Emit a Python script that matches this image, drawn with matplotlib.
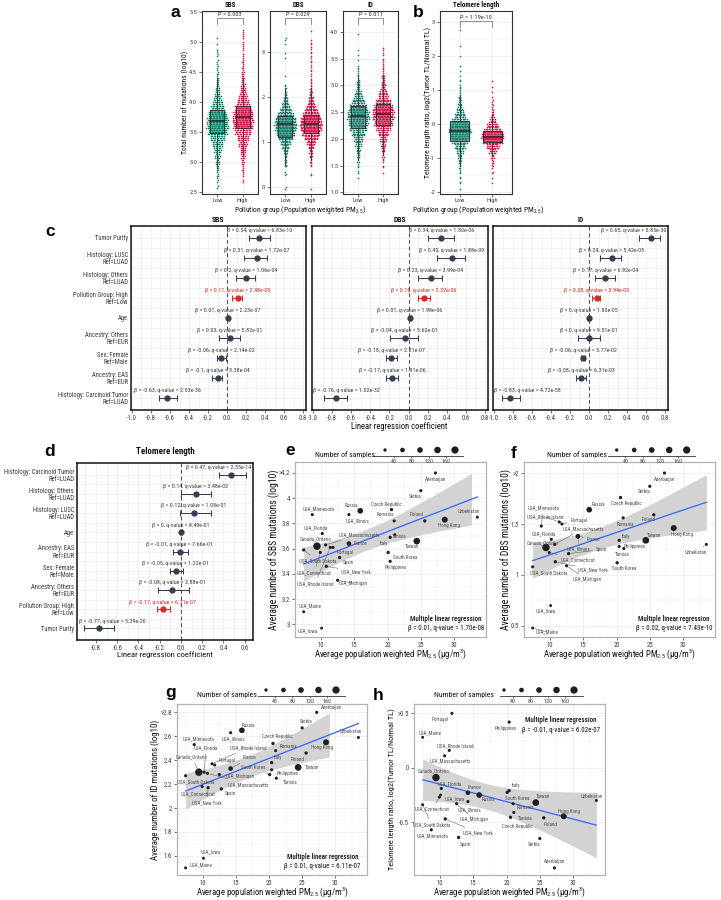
"""Multi-panel figure: mutational burden / telomere length vs PM2.5 pollution."""

import matplotlib

matplotlib.use("Agg")
import matplotlib.pyplot as plt
import numpy as np
from matplotlib import font_manager
from matplotlib.patches import Rectangle
from matplotlib.ticker import FixedLocator, MultipleLocator

_names = {f.name for f in font_manager.fontManager.ttflist}
BASE, SCALE = "Roboto", 0.9
for _cand in ("Roboto Condensed", "Liberation Sans Narrow", "Archivo Narrow", "Asap Condensed"):
    if _cand in _names:
        BASE, SCALE = _cand, 1.0
        break
LETTER_FONT = "Liberation Sans" if "Liberation Sans" in _names else "DejaVu Sans"

plt.rcParams["font.family"] = [BASE, "DejaVu Sans"]
plt.rcParams["mathtext.fontset"] = "custom"
plt.rcParams["mathtext.rm"] = BASE
plt.rcParams["mathtext.it"] = BASE + ":italic"
plt.rcParams["mathtext.bf"] = BASE + ":bold"
plt.rcParams["axes.unicode_minus"] = False


def fs(size):
    return size * SCALE


# ---------------------------------------------------------------------------
# Data
# ---------------------------------------------------------------------------
groups = ["Low", "High"]

# panel a/b: counts of tumours per bin (bin centre = start + i * step)
sbs_start, sbs_step = 2.6, 0.1
sbs_low = [2, 3, 4, 6, 8, 11, 15, 21, 30, 40, 46, 45, 38, 28, 20, 14, 9, 6, 5, 4, 3, 2, 3, 1, 1, 1, 0]
sbs_high = [0, 2, 3, 4, 6, 9, 12, 17, 24, 33, 41, 44, 42, 34, 25, 17, 12, 8, 6, 5, 4, 4, 2, 3, 2, 3, 2]
sbs_box_low = [3.48, 3.68, 3.87]
sbs_box_high = [3.57, 3.75, 3.93]

dbs_start, dbs_step = 0.0, 0.1
dbs_low = [2, 0, 0, 3, 0, 4, 5, 6, 9, 13, 20, 30, 38, 44, 46, 42, 34, 24, 16, 10,
           7, 4, 3, 1, 0, 1, 0, 0, 0, 1, 1, 0, 1, 2, 0, 0]
dbs_high = [1, 0, 0, 2, 0, 3, 4, 5, 7, 11, 17, 27, 37, 44, 46, 43, 35, 26, 17, 11,
            8, 5, 4, 3, 2, 2, 2, 2, 2, 2, 2, 2, 2, 1, 0, 1]
dbs_box_low = [1.11, 1.39, 1.58]
dbs_box_high = [1.20, 1.41, 1.60]

id_start, id_step = 1.3, 0.1
id_low = [1, 2, 3, 4, 6, 9, 13, 18, 26, 35, 42, 46, 44, 36, 26, 17, 11, 7, 5, 3, 3, 1, 1, 1, 1, 0, 0, 1]
id_high = [0, 1, 2, 3, 4, 7, 10, 14, 21, 30, 38, 44, 45, 40, 31, 21, 14, 9, 6, 4, 3, 3, 2, 2, 2, 0, 0, 0]
id_box_low = [2.20, 2.42, 2.61]
id_box_high = [2.26, 2.46, 2.66]

tl_start, tl_step = -2.0, 0.15
tl_low = [1, 1, 2, 2, 3, 4, 6, 9, 14, 22, 32, 42, 46, 42, 33, 22, 14, 9, 6, 4, 3, 2, 2,
          1, 1, 1, 0, 1, 0, 1, 0, 0, 1]
tl_high = [0, 0, 1, 1, 2, 3, 4, 7, 14, 26, 40, 46, 38, 24, 13, 7, 4, 3, 2, 1, 1, 1, 1,
           0, 0, 0, 0, 0, 0, 0, 0, 0, 0]
tl_box_low = [-0.50, -0.20, 0.09]
tl_box_high = [-0.53, -0.37, -0.21]

p_values = ["P = 0.003", "P = 0.029", "P = 0.011", "P = 1.19e-10"]

# panel c: multivariable regression of mutation burden
c_terms = [
    "Tumor Purity",
    "Histology: LUSC\nRef=LUAD",
    "Histology: Others\nRef=LUAD",
    "Pollution Group: High\nRef=Low",
    "Age",
    "Ancestry: Others\nRef=EUR",
    "Sex: Female\nRef=Male",
    "Ancestry: EAS\nRef=EUR",
    "Histology: Carcinoid Tumor\nRef=LUAD",
]
sbs_beta = [0.34, 0.31, 0.2, 0.11, 0.01, 0.03, -0.06, -0.1, -0.63]
sbs_lo = [0.23, 0.18, 0.09, 0.05, 0.0, -0.09, -0.11, -0.16, -0.72]
sbs_hi = [0.45, 0.42, 0.29, 0.16, 0.02, 0.14, -0.01, -0.05, -0.53]
sbs_q = [6.83e-10, 1.72e-07, 1.06e-04, 2.48e-05, 2.23e-07, 5.82e-01, 2.14e-02, 3.38e-04, 2.03e-36]

dbs_beta = [0.34, 0.45, 0.23, 0.16, 0.01, -0.04, -0.18, -0.17, -0.76]
dbs_lo = [0.20, 0.30, 0.10, 0.10, 0.0, -0.19, -0.24, -0.24, -0.88]
dbs_hi = [0.47, 0.59, 0.35, 0.22, 0.02, 0.10, -0.12, -0.11, -0.64]
dbs_q = [1.80e-06, 1.88e-09, 3.99e-04, 2.37e-06, 1.98e-06, 5.60e-01, 2.21e-07, 1.91e-06, 1.02e-32]

id_beta = [0.65, 0.24, 0.17, 0.08, 0, 0, -0.06, -0.08, -0.83]
id_lo = [0.53, 0.11, 0.06, 0.03, -0.01, -0.12, -0.09, -0.14, -0.92]
id_hi = [0.75, 0.34, 0.27, 0.12, 0.01, 0.11, -0.04, -0.03, -0.73]
id_q = [5.85e-30, 5.42e-05, 6.92e-04, 3.94e-03, 1.80e-05, 9.51e-01, 3.77e-02, 6.31e-03, 4.72e-58]

# panel d: regression of telomere length
d_terms = [
    "Histology: Carcinoid Tumor\nRef=LUAD",
    "Histology: Others\nRef=LUAD",
    "Histology: LUSC\nRef=LUAD",
    "Age",
    "Ancestry: EAS\nRef=EUR",
    "Sex: Female\nRef=Male",
    "Ancestry: Others\nRef=EUR",
    "Pollution Group: High\nRef=Low",
    "Tumor Purity",
]
tl_beta = [0.47, 0.14, 0.12, 0, -0.01, -0.05, -0.08, -0.17, -0.77]
tl_lo = [0.36, 0.0, -0.01, -0.01, -0.07, -0.10, -0.22, -0.23, -0.91]
tl_hi = [0.61, 0.28, 0.28, 0.01, 0.07, 0.02, 0.08, -0.10, -0.63]
tl_q = [2.55e-14, 3.48e-02, 1.03e-01, 8.49e-01, 7.66e-01, 1.22e-01, 2.88e-01, 6.71e-07, 5.39e-26]

# panels e-h: per-region averages
regions = [
    "Azerbaijan", "Serbia", "Czech Republic", "Romania", "Poland", "Uzbekistan",
    "Hong Kong", "Russia", "USA_Illinois", "USA_Minnesota", "USA_Florida", "Tunisia",
    "Italy", "Taiwan", "France", "USA_Massachusetts", "Canada_Ontario", "Portugal",
    "USA_Rhode Island", "USA_South Dakota", "USA_Connecticut", "USA_New York", "Spain",
    "South Korea", "Philippines", "USA_Michigan", "USA_Maine", "USA_Iowa",
]
pm25 = [27.2, 25.0, 20.6, 21.0, 25.6, 33.5, 28.6, 15.9, 14.2, 8.7, 10.2, 21.1,
        20.4, 24.4, 14.2, 10.7, 9.4, 11.8, 11.4, 7.4, 9.9, 10.8, 12.8,
        20.1, 20.4, 12.5, 7.4, 10.1]
n_samples = [15, 15, 20, 15, 20, 12, 115, 100, 15, 15, 15, 15,
             20, 150, 60, 15, 190, 15, 15, 15, 15, 20, 20,
             20, 15, 15, 10, 10]
avg_sbs = [4.2, 4.06, 3.91, 3.82, 3.82, 3.85, 3.83, 3.90, 3.87, 3.87, 3.72, 3.71,
           3.69, 3.66, 3.64, 3.63, 3.62, 3.61, 3.61, 3.59, 3.57, 3.46, 3.53,
           3.57, 3.50, 3.35, 3.10, 2.97]
avg_dbs = [2.0, 1.87, 1.76, 1.56, 1.59, 1.30, 1.46, 1.64, 1.37, 1.48, 1.35, 1.26,
           1.34, 1.34, 1.38, 1.30, 1.27, 1.50, 1.52, 1.08, 1.22, 1.13, 1.21,
           1.12, 1.28, 1.09, 0.48, 0.70]
avg_id = [2.8, 2.67, 2.54, 2.48, 2.46, 2.59, 2.55, 2.65, 2.63, 2.53, 2.30, 2.25,
          2.38, 2.34, 2.33, 2.29, 2.30, 2.36, 2.37, 2.27, 2.18, 2.17, 2.16,
          2.28, 2.32, 2.28, 1.50, 1.58]
avg_tl = [-0.92, -0.65, -0.455, -0.33, -0.46, -0.30, -0.445, -0.25, -0.31, -0.57, -0.19, -0.41,
          -0.21, -0.32, -0.23, 0.11, -0.09, 0.5, 0.16, -0.34, -0.27, -0.47, -0.64,
          -0.226, 0.42, -0.33, 0.28, -0.25]
size_keys = [20, 60, 100, 140, 180]
size_breaks = [40, 80, 120, 160]
reg_stats = {"e": (0.01, 1.70e-08), "f": (0.02, 7.43e-10), "g": (0.01, 6.11e-07), "h": (-0.01, 6.02e-07)}

# label offsets (pixels, right / down) for the country labels
off_e = {"Azerbaijan": (0, 7), "Serbia": (-6, 6), "Czech Republic": (-5, -5), "Romania": (-9, -6),
         "Poland": (-8, -6), "Uzbekistan": (-9, -6), "Hong Kong": (4, 6), "Russia": (-9, -5),
         "USA_Illinois": (9, 6), "USA_Minnesota": (6, -6), "USA_Florida": (-7, -6), "Tunisia": (4, 2),
         "Italy": (-6, 6), "Taiwan": (-5, 5), "France": (12, 0), "USA_Massachusetts": (34, -10),
         "Canada_Ontario": (-1, -7), "Portugal": (12, 5), "USA_Rhode Island": (-15, 36),
         "USA_South Dakota": (14, 11), "USA_Connecticut": (-6, 20), "USA_New York": (30, 5),
         "Spain": (9, 5), "South Korea": (17, 5), "Philippines": (6, 6), "USA_Michigan": (16, 3),
         "USA_Maine": (6, -6), "USA_Iowa": (-14, 3)}
off_f = {"Azerbaijan": (0, 6), "Serbia": (-6, 5), "Czech Republic": (6, 6), "Russia": (9, -5),
         "Poland": (-5, 5), "Romania": (2, 7), "USA_Minnesota": (2, -18), "USA_Rhode Island": (-14, -5),
         "Portugal": (17, -4), "Hong Kong": (8, 6), "USA_Florida": (-8, -6), "USA_Massachusetts": (29, -16),
         "France": (16, 3), "Italy": (7, -4), "Taiwan": (8, -5), "Uzbekistan": (-11, 8),
         "Canada_Ontario": (-3, -5), "Philippines": (16, 0), "Tunisia": (-2, 6), "USA_Illinois": (1, 12),
         "Spain": (33, -4), "USA_Connecticut": (29, 7), "USA_New York": (38, 8), "USA_Michigan": (21, 14),
         "South Korea": (7, 6), "USA_South Dakota": (16, 6), "USA_Iowa": (-5, 5), "USA_Maine": (14, 4)}
off_g = {"Azerbaijan": (15, -5), "Serbia": (4, -6), "Russia": (6, -5), "USA_Illinois": (3, 6),
         "Uzbekistan": (-8, -6), "Hong Kong": (-4, 5), "Czech Republic": (4, -7), "USA_Minnesota": (4, -6),
         "Romania": (13, -4), "Poland": (-9, 6), "Italy": (6, -5), "USA_Rhode Island": (36, -16),
         "USA_Florida": (2, -24), "Portugal": (12, -4), "France": (19, -11), "Taiwan": (14, 0),
         "Philippines": (16, 4), "South Korea": (-16, -7), "Tunisia": (14, 4), "Canada_Ontario": (-7, -15),
         "USA_Massachusetts": (41, 11), "USA_Michigan": (21, 2), "USA_South Dakota": (10, 6),
         "USA_Connecticut": (-4, 7), "USA_New York": (-1, 15), "Spain": (9, 5), "USA_Iowa": (7, -6),
         "USA_Maine": (15, -3)}
off_h = {"Portugal": (-12, 6), "Philippines": (-3, 6), "USA_Maine": (7, -5), "USA_Rhode Island": (6, -5),
         "USA_Massachusetts": (6, 5), "Canada_Ontario": (-2, -7), "USA_Florida": (8, -5), "Italy": (7, -5),
         "South Korea": (10, 6), "France": (7, -5), "Russia": (9, 5), "USA_Illinois": (2, 8),
         "USA_Iowa": (14, 4), "USA_Connecticut": (-7, 12), "USA_Michigan": (18, 16), "Taiwan": (7, -6),
         "Uzbekistan": (-5, -4), "Romania": (12, 4), "USA_South Dakota": (9, 20), "Tunisia": (11, 6),
         "Czech Republic": (7, 9), "Hong Kong": (5, -5), "Poland": (7, 7), "USA_New York": (33, 14),
         "USA_Minnesota": (1, 6), "Spain": (7, 7), "Serbia": (-6, 6), "Azerbaijan": (0, -6)}

# ---------------------------------------------------------------------------
# Styling helpers
# ---------------------------------------------------------------------------
W, H = 721, 900
LOW_C = "#17806d"
HIGH_C = "#d1194c"
DOT_C = "#353e4f"
RED_C = "#d42a2a"
GRID_C = "#ebebeb"
TXT_C = "#3d3d3d"
LAB_C = "#111111"

fig = plt.figure(figsize=(W / 100, H / 100), dpi=100)


def px_rect(left, top, right, bottom):
    return [left / W, 1 - bottom / H, (right - left) / W, (bottom - top) / H]


def ftext(x, y, s, size, **kw):
    kw.setdefault("ha", "center")
    kw.setdefault("va", "center")
    kw.setdefault("color", LAB_C)
    return fig.text(x / W, 1 - y / H, s, fontsize=fs(size), **kw)


def style_frame(ax, color, lw, tick_size=4.6):
    for sp in ax.spines.values():
        sp.set_color(color)
        sp.set_linewidth(lw)
    ax.tick_params(labelsize=fs(tick_size), colors=TXT_C, length=2, width=0.5, pad=1.5)
    ax.tick_params(which="minor", length=0)
    ax.set_axisbelow(True)


def box_swarm(ax, start, step, counts_pair, boxes, ppu, yticks, ylim, title, ptext, bracket_px):
    dx = 1.45 / ppu
    for xc, counts, box, col in zip((1, 2), counts_pair, boxes, (LOW_C, HIGH_C)):
        xs, ys = [], []
        for i, c in enumerate(counts):
            for j, part in enumerate(np.array_split(np.arange(c), 3)):
                m = len(part)
                if m == 0:
                    continue
                yv = start + i * step - step / 2 + (j + 0.5) * step / 3
                off = (np.arange(m) - (m - 1) / 2 + 0.25 * (j % 2)) * dx
                xs.extend(xc + off)
                ys.extend([yv] * m)
        ax.scatter(xs, ys, s=1.4, color=col, lw=0, zorder=2)
        q1, med, q3 = box
        iqr = q3 - q1
        centres = start + step * np.arange(len(counts))
        present = centres[np.array(counts) > 0]
        wlo = present[present >= q1 - 1.5 * iqr].min()
        whi = present[present <= q3 + 1.5 * iqr].max()
        ax.plot([xc, xc], [wlo, q1], color="#333333", lw=0.6, zorder=2.5)
        ax.plot([xc, xc], [q3, whi], color="#333333", lw=0.6, zorder=2.5)
        bw = 0.56
        ax.add_patch(Rectangle((xc - bw / 2, q1), bw, q3 - q1, facecolor=col, alpha=0.6,
                               edgecolor="none", zorder=3))
        ax.add_patch(Rectangle((xc - bw / 2, q1), bw, q3 - q1, facecolor="none",
                               edgecolor="#333333", lw=0.7, zorder=3.5))
        ax.plot([xc - bw / 2, xc + bw / 2], [med, med], color="#262626", lw=1.1, zorder=4)
    ax.set_xlim(0.4, 2.6)
    ax.set_ylim(ylim)
    ax.set_xticks([1, 2], groups)
    ax.set_yticks(yticks)
    ax.yaxis.set_minor_locator(FixedLocator(np.array(yticks[:-1]) + np.diff(yticks) / 2))
    ax.grid(True, which="major", color=GRID_C, lw=0.5)
    ax.grid(True, which="minor", axis="y", color=GRID_C, lw=0.3)
    style_frame(ax, "#333333", 0.8, 4.6)
    ax.tick_params(axis="x", pad=1.0)
    # significance bracket
    hpx = ax.get_position().height * H
    yb = 1 - bracket_px / hpx
    yt = yb - 5.5 / hpx
    tr = ax.get_xaxis_transform()
    ax.plot([1, 1, 2, 2], [yt, yb, yb, yt], color="#666666", lw=0.5, transform=tr, clip_on=False)
    ax.text(1.5, yb + 1.2 / hpx, ptext, transform=tr, ha="center", va="bottom", fontsize=fs(4.6),
            color="#333333")
    bb = ax.get_position()
    ftext((bb.x0 + bb.width / 2) * W, 5.2, title, 5.0, fontweight="bold")


def forest(ax, terms, beta, lo, hi, q, highlight, xlim, xticks, show_terms, items):
    n = len(terms)
    rows = np.arange(n, 0, -1)
    for i in range(n):
        col = RED_C if i == highlight else DOT_C
        ax.errorbar(beta[i], rows[i], xerr=[[beta[i] - lo[i]], [hi[i] - beta[i]]], fmt="o",
                    ms=3.5, color=col, ecolor=col, elinewidth=0.75, capsize=2.5, capthick=0.75,
                    zorder=3)
        t = ax.text(beta[i], rows[i] + 0.37, f"β = {beta[i]:g}, q-value = {q[i]:.2e}",
                    fontsize=fs(4.3), color=RED_C if i == highlight else TXT_C,
                    ha="center", va="center", zorder=4)
        items.append((ax, t))
    ax.axvline(0, color="#555555", ls=(0, (3.5, 2.5)), lw=0.8, zorder=2)
    ax.set_xlim(xlim)
    ax.set_ylim(0.4, n + 0.6)
    ax.set_xticks(xticks, [f"{v:.1f}" for v in xticks])
    ax.xaxis.set_minor_locator(MultipleLocator(0.1))
    ax.set_yticks(rows, terms if show_terms else [""] * n)
    ax.yaxis.set_minor_locator(FixedLocator(rows[:-1] - 0.5))
    ax.grid(True, which="both", color=GRID_C, lw=0.45)
    style_frame(ax, "#111111", 1.1, 4.8)
    ax.tick_params(axis="y", length=0, labelsize=fs(4.75), pad=2.0)
    if not show_terms:
        ax.tick_params(axis="y", labelleft=False)
    for lab in ax.get_yticklabels():
        lab.set_linespacing(1.05)


def ols_band(x, y):
    x = np.asarray(x, float)
    y = np.asarray(y, float)
    n = len(x)
    xm = x.mean()
    sxx = ((x - xm) ** 2).sum()
    b1 = ((x - xm) * (y - y.mean())).sum() / sxx
    b0 = y.mean() - b1 * xm
    s2 = ((y - b0 - b1 * x) ** 2).sum() / (n - 2)
    xs = np.linspace(x.min(), x.max(), 120)
    fit = b0 + b1 * xs
    se = np.sqrt(s2 * (1 / n + (xs - xm) ** 2 / sxx))
    return xs, fit, fit - 2.056 * se, fit + 2.056 * se


def scatter_panel(ax, yvals, offsets, ylim, yticks, yticklabels, stat_key, stat_xy):
    xs, fit, lo, hi = ols_band(pm25, yvals)
    inside = (hi <= yticks[-1] + 1e-9) & (lo >= ylim[0])
    ax.fill_between(xs, lo, hi, where=inside, color="#d3d3d3", lw=0, zorder=1)
    ax.plot(xs, fit, color="#3366ff", lw=0.9, zorder=2)
    sizes = 3.1 + 0.135 * np.asarray(n_samples)
    ax.scatter(pm25, yvals, s=sizes, color="#1e1e1e", lw=0, zorder=3)
    for name, xv, yv in zip(regions, pm25, yvals):
        ox, oy = offsets[name]
        lead = np.hypot(ox, oy) > 12
        ax.annotate(name, (xv, yv), xytext=(ox * 0.72, -oy * 0.72), textcoords="offset points",
                    ha="center", va="center", fontsize=fs(3.7), color="#4f4f4f", zorder=4,
                    annotation_clip=False,
                    arrowprops=dict(arrowstyle="-", lw=0.35, color="#555555", shrinkA=0.5,
                                    shrinkB=1.5) if lead else None)
    ax.set_xlim(6.1, 34.8)
    ax.set_ylim(ylim)
    ax.set_xticks([10, 15, 20, 25, 30])
    ax.set_yticks(yticks, yticklabels)
    ax.xaxis.set_minor_locator(MultipleLocator(2.5))
    ax.yaxis.set_minor_locator(FixedLocator(np.array(yticks[:-1]) + np.diff(yticks) / 2))
    ax.grid(True, which="major", color=GRID_C, lw=0.5)
    ax.grid(True, which="minor", color=GRID_C, lw=0.3)
    style_frame(ax, "#b3b3b3", 0.9, 4.8)
    b, qv = reg_stats[stat_key]
    ax.text(stat_xy[0], stat_xy[1] + 0.03, "Multiple linear regression", transform=ax.transAxes,
            ha="center", va="center", fontsize=fs(5.0), color="#111111", fontweight="medium",
            zorder=5)
    ax.text(stat_xy[0], stat_xy[1] - 0.028, f"β = {b:g}, q-value = {qv:.2e}", transform=ax.transAxes,
            ha="center", va="center", fontsize=fs(5.0), color="#111111", zorder=5)


def size_legend(left, right, x20, x180, y_dots, y_line, text_xy):
    lax = fig.add_axes(px_rect(left, y_line - 10, right, y_line))
    ppu = (x180 - x20) / 160
    lax.set_xlim(20 - (x20 - left) / ppu, 180 + (right - x180) / ppu)
    lax.set_ylim(0, 1)
    yd = (y_line - y_dots) / 10
    lax.scatter(size_keys, [yd] * len(size_keys), s=3.1 + 0.135 * np.asarray(size_keys),
                color="#1e1e1e", lw=0, clip_on=False)
    for side in ("top", "left", "right"):
        lax.spines[side].set_visible(False)
    lax.spines["bottom"].set_color("#333333")
    lax.spines["bottom"].set_linewidth(0.6)
    lax.set_yticks([])
    lax.set_xticks(size_breaks)
    lax.tick_params(axis="x", labelsize=fs(4.3), length=1.5, width=0.5, pad=0.8, colors=TXT_C)
    lax.patch.set_alpha(0)
    ftext(text_xy[0], text_xy[1], "Number of samples", 5.6)


# ---------------------------------------------------------------------------
# Panel a / b
# ---------------------------------------------------------------------------
ax_sbs = fig.add_axes(px_rect(202, 11, 258, 194))
box_swarm(ax_sbs, sbs_start, sbs_step, (sbs_low, sbs_high), (sbs_box_low, sbs_box_high), 25.5,
          [2.5, 3.0, 3.5, 4.0, 4.5, 5.0, 5.5], (2.47, 5.52), "SBS", p_values[0], 7.3)
ax_sbs.set_yticks([2.5, 3.0, 3.5, 4.0, 4.5, 5.0, 5.5], ["2.5", "3.0", "3.5", "4.0", "4.5", "5.0", "5.5"])

ax_dbs = fig.add_axes(px_rect(270, 11, 326, 194))
box_swarm(ax_dbs, dbs_start, dbs_step, (dbs_low, dbs_high), (dbs_box_low, dbs_box_high), 25.5,
          [0, 1, 2, 3], (-0.15, 3.9), "DBS", p_values[1], 7.3)

ax_id = fig.add_axes(px_rect(343, 11, 398, 194))
box_swarm(ax_id, id_start, id_step, (id_low, id_high), (id_box_low, id_box_high), 25.0,
          [1.0, 1.5, 2.0, 2.5, 3.0, 3.5, 4.0], (0.97, 4.39), "ID", p_values[2], 7.3)
ax_id.set_yticks([1.0, 1.5, 2.0, 2.5, 3.0, 3.5, 4.0], ["1.0", "1.5", "2.0", "2.5", "3.0", "3.5", "4.0"])

ax_tl = fig.add_axes(px_rect(440, 11, 512, 194))
box_swarm(ax_tl, tl_start, tl_step, (tl_low, tl_high), (tl_box_low, tl_box_high), 32.7,
          [-2, -1, 0, 1, 2, 3], (-2.06, 3.32), "Telomere length", p_values[3], 10.5)

ftext(185, 102, "Total number of mutations (log10)", 5.5, rotation=90)
ftext(428, 102, "Telomere length ratio, log2(Tumor TL/Normal TL)", 5.6, rotation=90)
ftext(300, 210.5, "Pollution group (Population weighted PM$_{2.5}$)", 5.4)
ftext(478, 210.5, "Pollution group (Population weighted PM$_{2.5}$)", 5.4)

# ---------------------------------------------------------------------------
# Panel c / d
# ---------------------------------------------------------------------------
clamp = []
c_ticks = [-1.0, -0.8, -0.6, -0.4, -0.2, 0.0, 0.2, 0.4, 0.6, 0.8]
ax_c1 = fig.add_axes(px_rect(131, 226, 306, 410))
forest(ax_c1, c_terms, sbs_beta, sbs_lo, sbs_hi, sbs_q, 3, (-1.01, 0.83), c_ticks, True, clamp)
ax_c2 = fig.add_axes(px_rect(312, 226, 488, 410))
forest(ax_c2, c_terms, dbs_beta, dbs_lo, dbs_hi, dbs_q, 3, (-1.01, 0.83), c_ticks, False, clamp)
ax_c3 = fig.add_axes(px_rect(493, 226, 668, 410))
forest(ax_c3, c_terms, id_beta, id_lo, id_hi, id_q, 3, (-1.01, 0.83), c_ticks, False, clamp)
for ax, title in ((ax_c1, "SBS"), (ax_c2, "DBS"), (ax_c3, "ID")):
    bb = ax.get_position()
    ftext((bb.x0 + bb.width / 2) * W, 219.5, title, 5.5, fontweight="bold")
ftext(399, 426, "Linear regression coefficient", 6.2)

d_ticks = [-0.8, -0.6, -0.4, -0.2, 0.0, 0.2, 0.4, 0.6]
ax_d = fig.add_axes(px_rect(77, 463, 253, 640))
forest(ax_d, d_terms, tl_beta, tl_lo, tl_hi, tl_q, 7, (-0.98, 0.68), d_ticks, True, clamp)
ftext(165, 452, "Telomere length", 6.4, fontweight="bold")
ftext(165, 654.5, "Linear regression coefficient", 6.1)

# ---------------------------------------------------------------------------
# Panels e-h
# ---------------------------------------------------------------------------
xlab = "Average population weighted PM$_{2.5}$ (µg/m$^{3}$)"
ax_e = fig.add_axes(px_rect(295, 462, 486, 637))
scatter_panel(ax_e, avg_sbs, off_e, (2.9, 4.287), [3, 3.2, 3.4, 3.6, 3.8, 4, 4.2],
              ["3", "3.2", "3.4", "3.6", "3.8", "4", ">4.2"], "e", (0.79, 0.075))
ftext(274, 549.5, "Average number of SBS mutations (log10)", 6.9, rotation=90)
ftext(390.5, 654, xlab, 6.3)
size_legend(373, 463, 385, 455, 450, 456, (345, 454.5))

ax_f = fig.add_axes(px_rect(524, 462, 715, 637))
scatter_panel(ax_f, avg_dbs, off_f, (0.392, 2.108), [0.5, 1, 1.5, 2],
              ["0.5", "1", "1.5", ">2"], "f", (0.785, 0.075))
ftext(506.5, 549.5, "Average number of DBS mutations (log10)", 6.9, rotation=90)
ftext(619.5, 654, xlab, 6.3)
size_legend(608, 695, 616.7, 686.7, 450, 456, (576.7, 454.7))

ax_g = fig.add_axes(px_rect(177, 704, 367, 875))
scatter_panel(ax_g, avg_id, off_g, (1.44, 2.87), [1.6, 1.8, 2, 2.2, 2.4, 2.6, 2.8],
              ["1.6", "1.8", "2", "2.2", "2.4", "2.6", ">2.8"], "g", (0.765, 0.075))
ftext(155, 789.5, "Average number of ID mutations (log10)", 6.4, rotation=90)
ftext(272, 892.5, xlab, 6.3)
size_legend(258, 345, 266, 336, 690, 695.7, (226.7, 694.3))

ax_h = fig.add_axes(px_rect(414, 704, 605, 875))
scatter_panel(ax_h, avg_tl, off_h, (-0.985, 0.586), [-0.5, 0, 0.5],
              ["-0.5", "0", ">0.5"], "h", (0.77, 0.875))
ftext(392, 789.5, "Telomere length ratio, log2(Tumor TL/Normal TL)", 6.0, rotation=90)
ftext(509.5, 892.5, xlab, 6.3)
size_legend(500, 583, 504, 574, 690, 695.7, (464.3, 695))

# panel letters
for letter, x, y in (("a", 175.5, 12.5), ("b", 418, 12.5), ("c", 50, 232), ("d", 50, 452),
                     ("e", 290, 451), ("f", 514, 454), ("g", 171, 692), ("h", 378, 696)):
    fig.text(x / W, 1 - y / H, letter, fontsize=12.5, fontweight="bold", family=LETTER_FONT,
             ha="center", va="center", color="#000000")

# keep the coefficient annotations inside their panels
fig.canvas.draw()
renderer = fig.canvas.get_renderer()
for ax, t in clamp:
    bb = t.get_window_extent(renderer)
    ab = ax.get_window_extent(renderer)
    shift = 0.0
    if bb.x0 < ab.x0 + 1.5:
        shift = ab.x0 + 1.5 - bb.x0
    elif bb.x1 > ab.x1 - 1.5:
        shift = ab.x1 - 1.5 - bb.x1
    if shift:
        xd = ax.transData.transform((t.get_position()[0], 0))[0] + shift
        t.set_x(ax.transData.inverted().transform((xd, 0))[0])

fig.savefig("out.png", dpi=100)
plt.close(fig)
